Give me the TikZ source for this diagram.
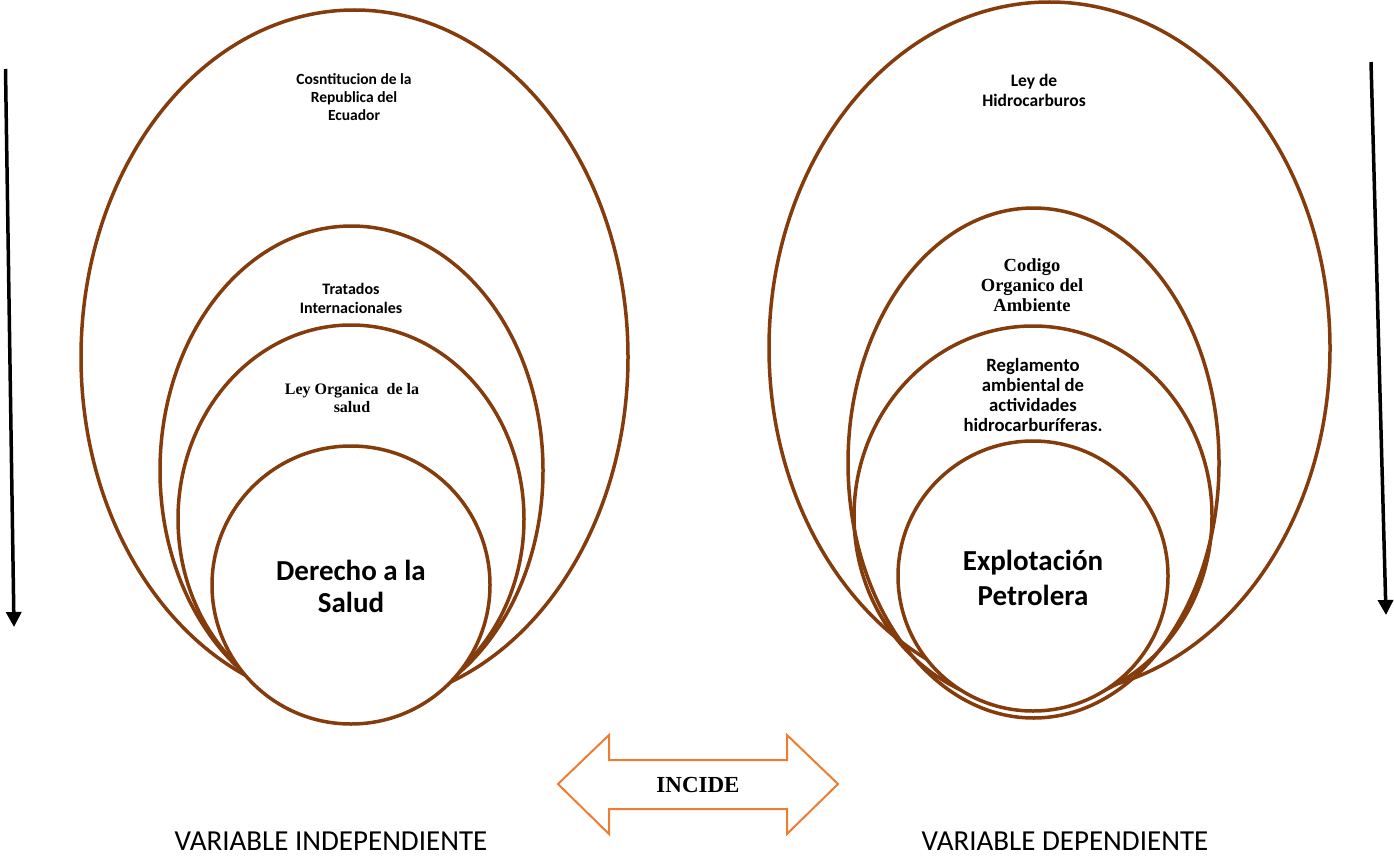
\documentclass[tikz,border=0pt]{standalone}
\usepackage{fontspec}
\newfontfamily\calfont{Carlito}
\newfontfamily\tnrfont{Liberation Serif}
\usetikzlibrary{shapes.geometric,arrows.meta}
\definecolor{ringbrown}{HTML}{843C0C}
\definecolor{arroworange}{HTML}{ED7D31}
\tikzset{
  ring/.style={ellipse, draw=ringbrown, line width=3.5pt, inner sep=0pt, outer sep=0pt},
  core/.style={ring, fill=white},
  lbl/.style={align=center, inner sep=0pt, text=black},
  downarrow/.style={line width=3.5pt, -{Triangle[width=15pt,length=15pt]}},
  bigarrow/.style={draw=arroworange, line width=2pt, fill=white, line join=miter}
}
\begin{document}
\begin{tikzpicture}[x=1pt,y=-1pt]
\useasboundingbox[fill=white] (0,0) rectangle (1394,856);

% ---- left group ----
\node[ring, minimum width=547pt, minimum height=694pt] (LA) at (354.5,357) {};
\node[ring, minimum width=383pt, minimum height=489pt] (LB) at (351.5,470.5) {};
\node[ring, minimum width=346pt, minimum height=388pt] (LC) at (351,519) {};
\node[core, minimum width=278pt, minimum height=278pt] (LD) at (351,585) {};

\node[lbl, font=\calfont\bfseries\fontsize{15.5}{18}\selectfont] (tA) at (354,97) {Cosntitucion de la\\Republica del\\Ecuador};
\node[lbl, font=\calfont\bfseries\fontsize{16}{19}\selectfont] (tB) at (351,298) {Tratados\\Internacionales};
\node[lbl, font=\tnrfont\bfseries\fontsize{16}{17.5}\selectfont] (tC) at (352,398) {Ley Organica\ \ de la\\salud};
\node[lbl, font=\calfont\bfseries\fontsize{29}{32}\selectfont] (tD) at (351,586) {Derecho a la\\Salud};

% ---- right group ----
\node[ring, minimum width=561pt, minimum height=692pt] (RA) at (1049.5,348) {};
\node[ring, minimum width=371pt, minimum height=510pt] (RB) at (1033.5,463) {};
\node[ring, minimum width=358pt, minimum height=380pt] (RC) at (1033,516) {};
\node[core, minimum width=270pt, minimum height=270pt] (RD) at (1033,576) {};

\node[lbl, font=\calfont\bfseries\fontsize{17.5}{20}\selectfont] (uA) at (1034,90) {Ley de\\Hidrocarburos};
\node[lbl, font=\tnrfont\bfseries\fontsize{18.5}{20}\selectfont] (uB) at (1032,285) {Codigo\\Organico del\\Ambiente};
\node[lbl, font=\calfont\bfseries\fontsize{18.7}{20}\selectfont] (uC) at (1033,395) {Reglamento\\ambiental de\\actividades\\hidrocarburíferas.};
\node[lbl, font=\calfont\bfseries\fontsize{29}{35}\selectfont] (uD) at (1033,578) {Explotación\\Petrolera};

% ---- vertical arrows ----
\coordinate (lt) at (5.5,69);
\coordinate (lb) at (14,627);
\coordinate (rt) at (1371,62);
\coordinate (rb) at (1386,615);
\draw[downarrow] (lt) -- (lb);
\draw[downarrow] (rt) -- (rb);

% ---- double arrow ----
\draw[bigarrow] (558,784) -- (609,735) -- (609,760) -- (787,760) -- (787,735) -- (838,784)
  -- (787,834) -- (787,809) -- (609,809) -- (609,834) -- cycle;
\node[lbl, font=\tnrfont\bfseries\fontsize{23}{25}\selectfont] (inc) at (698,785) {INCIDE};

% ---- bottom labels ----
\node[lbl, font=\calfont\fontsize{29}{31}\selectfont] (vi) at (331,841) {VARIABLE INDEPENDIENTE};
\node[lbl, font=\calfont\fontsize{29}{31}\selectfont] (vd) at (1065,841) {VARIABLE DEPENDIENTE};
\end{tikzpicture}
\end{document}
